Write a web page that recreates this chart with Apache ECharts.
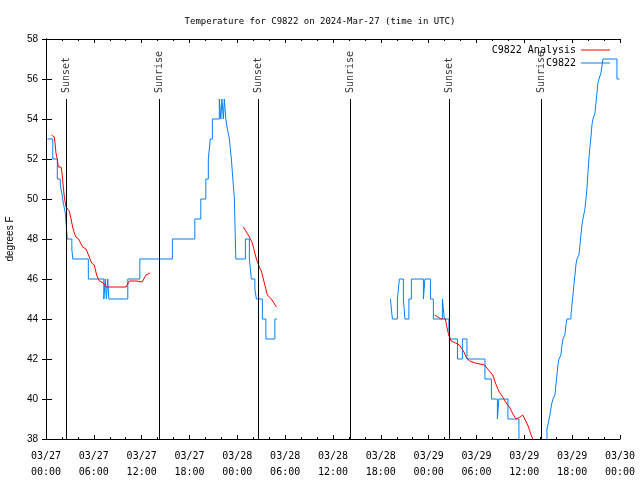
<!DOCTYPE html>
<html><head><meta charset="utf-8">
<script src="https://cdn.jsdelivr.net/npm/echarts@6/dist/echarts.min.js"></script>
<style>html,body{margin:0;padding:0;background:#fff}#c{width:640px;height:480px}</style>
</head><body><div id="c"></div>
<script>
// hours since 2024-03-27 00:00 UTC
const obsHours = [0.16,0.85,1.42,1.79,1.98,2.17,2.42,2.67,3.24,3.36,5.31,7.25,7.44,7.57,7.75,7.88,10.26,11.77,15.85,18.67,19.42,20.05,20.36,20.61,20.87,21.74,21.93,22.06,22.25,22.37,22.56,22.75,23.00,23.25,23.44,23.63,23.81,25.01,25.51,25.76,26.20,26.39,27.14,27.58,28.71,28.96,
  28.96,
  43.20,43.45,44.08,44.33,44.83,45.02,45.52,45.83,47.34,47.53,48.22,48.59,49.72,49.97,50.54,50.66,51.61,52.23,52.80,55.06,55.87,56.62,56.81,57.94,59.32,59.57,61.27,62.84,
  62.96,63.09,63.21,63.40,63.59,63.84,63.96,64.09,64.22,64.34,64.59,64.72,64.84,65.09,65.22,65.35,65.85,65.97,66.10,66.22,66.35,66.47,66.60,66.85,66.98,67.10,67.23,67.35,67.60,67.73,67.85,67.98,68.10,68.23,68.36,68.48,68.61,68.86,68.98,69.11,69.23,69.36,69.61,69.86,71.62,71.93];
const obsTemps = [53,52,51,50.7,50.3,49.8,49.3,48,47.5,47,46,45,46,45,46,45,46,47,48,49,50,51,52,53,54,55,54,55,54,55,54,53.5,53,52,51,50,47,48,47,46,45.5,45,44,43,44,44,
  null,
  45,44,45,46,45,44,45,46,45,46,45,44,45,44,43.5,43,42,43,42,41,40,39,40,39,38,37.5,37,38.5,
  38.7,39,39.2,39.7,40,40.2,40.7,41.2,41.7,42,42.2,42.7,43,43.2,43.7,44,44.2,44.7,45.2,45.7,46.2,46.7,47,47.2,47.7,48.2,48.7,49,49.5,50,50.5,51.3,52,52.6,53.1,53.7,54,54.3,54.8,55.3,55.8,56,56.3,57,56,56];
const anaHours = [0.70,1.04,1.13,1.25,1.42,1.54,1.88,2.01,2.17,2.30,2.51,2.71,2.92,3.14,3.34,3.55,3.76,4.09,4.59,5.02,5.43,5.72,6.06,6.35,6.69,7.19,7.53,10.04,10.45,11.29,12.05,12.55,13.05,
  18.0,
  24.76,25.51,25.88,26.39,26.76,27.01,27.39,27.77,28.27,28.90,
  36.0,
  48.76,49.56,50.10,50.23,50.51,50.82,51.36,51.86,52.36,52.70,53.11,53.86,54.99,55.41,56.04,56.37,56.79,57.29,57.72,58.13,58.63,58.97,59.47,59.80,60.05,60.43,60.85,61.05,61.33];
const anaTemps = [53.2,53.1,52.8,52.3,52.0,51.6,51.6,51.3,50.6,50.1,49.6,49.5,49.4,49.0,48.6,48.3,48.1,48.0,47.6,47.5,47.1,46.8,46.7,46.2,45.9,45.8,45.6,45.6,45.9,45.9,45.85,46.2,46.3,
  null,
  48.6,48.1,47.8,47.0,46.6,46.4,45.8,45.2,45.0,44.6,
  null,
  44.2,44.0,44.0,43.7,43.2,42.9,42.8,42.7,42.4,42.1,41.9,41.8,41.7,41.5,41.2,40.8,40.4,40.1,39.8,39.6,39.2,39.0,39.1,39.2,39.2,38.7,38.2,38.0,37.6];
const sunHours = [2.56,14.23,26.65,38.16,50.61,62.12];
const sunLabels = ['Sunset','Sunrise','Sunset','Sunrise','Sunset','Sunrise'];
const xTickLabels = ['03/27\n00:00','03/27\n06:00','03/27\n12:00','03/27\n18:00','03/28\n00:00','03/28\n06:00','03/28\n12:00','03/28\n18:00','03/29\n00:00','03/29\n06:00','03/29\n12:00','03/29\n18:00','03/30\n00:00'];
const seriesNames = ['C9822 Analysis','C9822'];
const titleText = 'Temperature for C9822 on 2024-Mar-27 (time in UTC)';
const yName = 'degrees F';

const SUN_LINE_TOP = 55.0, SUN_LABEL_BASE = 55.3;
const mono = 'DejaVu Sans Mono';
const zip = (a, b) => a.map((v, i) => [v, b[i]]);

const chart = echarts.init(document.getElementById('c'), null, {renderer: 'canvas'});
const axisCommon = {
  type: 'value', min: 0, max: 72, interval: 6,
  axisLine: {lineStyle: {color: '#000', width: 1}},
  splitLine: {show: false}
};
chart.setOption({
  animation: false,
  backgroundColor: '#fff',
  title: {text: titleText, left: 'center', top: 12,
    textStyle: {fontFamily: mono, fontSize: 9, fontWeight: 'normal', color: '#000'}},
  legend: {
    data: seriesNames, orient: 'vertical', right: 25, top: 40, align: 'right',
    icon: 'rect', itemWidth: 29, itemHeight: 1, itemGap: 3,
    textStyle: {fontFamily: mono, fontSize: 10, color: '#000'}
  },
  grid: {left: 46, right: 20, top: 39, bottom: 41, containLabel: false, outerBoundsMode: 'none'},
  xAxis: [
    Object.assign({}, axisCommon, {
      position: 'bottom',
      axisTick: {inside: true, length: 4, lineStyle: {color: '#000'}},
      minorTick: {show: true, splitNumber: 3, length: 2, lineStyle: {color: '#000'}},
      axisLabel: {fontFamily: mono, fontSize: 10, color: '#000', margin: 9, lineHeight: 16,
        formatter: v => xTickLabels[Math.round(v / 6)]}
    }),
    Object.assign({}, axisCommon, {
      position: 'top',
      axisTick: {inside: true, length: 4, lineStyle: {color: '#000'}},
      minorTick: {show: true, splitNumber: 3, length: 2, lineStyle: {color: '#000'}},
      axisLabel: {show: false}
    })
  ],
  yAxis: [
    {type: 'value', min: 38, max: 58, interval: 2, position: 'left',
      name: yName, nameLocation: 'middle', nameGap: 31,
      nameTextStyle: {fontFamily: 'Liberation Sans', fontSize: 10, color: '#000'},
      axisLine: {lineStyle: {color: '#000'}},
      axisTick: {inside: true, length: 6, lineStyle: {color: '#000'}},
      splitLine: {show: false},
      axisLabel: {fontFamily: 'Liberation Sans', fontSize: 10, color: '#000', margin: 8}},
    {type: 'value', min: 38, max: 58, interval: 2, position: 'right',
      axisLine: {show: true, lineStyle: {color: '#000'}},
      axisTick: {show: true, inside: true, length: 4, lineStyle: {color: '#000'}},
      splitLine: {show: false},
      axisLabel: {show: false}}
  ],
  series: [
    {name: seriesNames[0], type: 'line', data: zip(anaHours, anaTemps), showSymbol: false, symbol: 'none',
      lineStyle: {color: '#ff0000', width: 1}, itemStyle: {color: '#ff0000'}, z: 3},
    {name: seriesNames[1], type: 'line', step: 'end', data: zip(obsHours, obsTemps), showSymbol: false, symbol: 'none',
      lineStyle: {color: '#0080ff', width: 1}, itemStyle: {color: '#0080ff'}, z: 2,
      markLine: {silent: true, symbol: 'none', label: {show: false},
        lineStyle: {color: '#000', width: 1, type: 'solid'},
        data: sunHours.map(h => [{coord: [h, 38]}, {coord: [h, SUN_LINE_TOP]}])}},
    {name: 'sun', type: 'scatter', symbolSize: 0, silent: true, z: 4,
      data: sunHours.map((h, i) => [h, SUN_LABEL_BASE, sunLabels[i]]),
      label: {show: true, position: [0, 0], rotate: 90, align: 'left', verticalAlign: 'middle',
        fontFamily: mono, fontSize: 10, color: '#000', formatter: p => p.value[2]}}
  ]
});
</script></body></html>
